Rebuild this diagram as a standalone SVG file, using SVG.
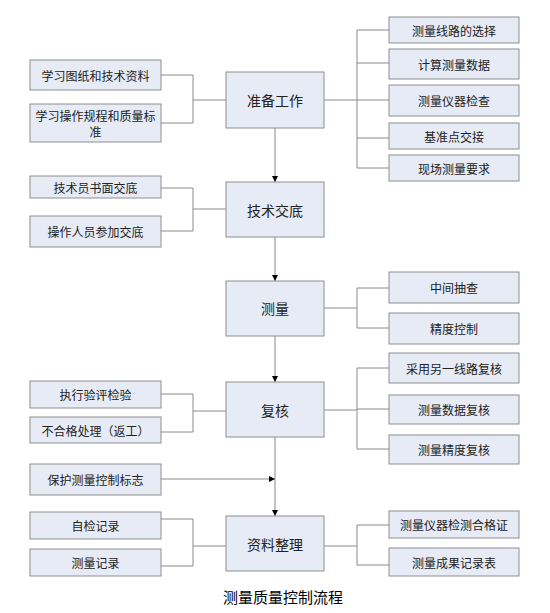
<svg xmlns="http://www.w3.org/2000/svg" width="550" height="613" viewBox="0 0 550 613">
<style>
.b{fill:#E6EBF6;stroke:#8E8E8E;stroke-width:1}
.t{font-family:"Noto Sans CJK SC","Noto Sans CJK TC",sans-serif;font-size:12px;fill:#222;text-anchor:middle;dominant-baseline:central}
.m{font-size:14px}
.c{fill:none;stroke:#8A8A8A;stroke-width:1}
.title{font-family:"Noto Sans CJK SC",sans-serif;font-size:15px;fill:#000;text-anchor:middle}
</style>
<defs>
<marker id="ah" viewBox="0 0 6 6" refX="6" refY="3" markerWidth="6" markerHeight="6" markerUnits="userSpaceOnUse" orient="auto">
<path d="M0,0 L6,3 L0,6 Z" fill="#000"/>
</marker>
</defs>
<rect width="550" height="613" fill="#fff"/>
<g id="connectors">
<path class="c" d="M161,75 H193 V123 H161 M193,100 H226"/>
<path class="c" d="M324,100 H357 M357,30 V168 M357,30 H389 M357,63 H389 M357,100 H389 M357,138 H389 M357,168 H389"/>
<path class="c" d="M161,188 H193 V231 H161 M193,209 H226"/>
<path class="c" d="M324,308 H357 M357,288 V328 M357,288 H389 M357,328 H389"/>
<path class="c" d="M161,394 H193 V432 H161 M193,411 H226"/>
<path class="c" d="M324,410 H357 M357,368 V449 M357,368 H389 M357,409 H389 M357,449 H389"/>
<path class="c" d="M161,519 H193 V566 H161 M193,546 H226"/>
<path class="c" d="M324,546 H357 M357,525 V565 M357,525 H389 M357,565 H389"/>
<path class="c" d="M275,128 V182" marker-end="url(#ah)"/>
<path class="c" d="M275,237 V281" marker-end="url(#ah)"/>
<path class="c" d="M275,336 V382" marker-end="url(#ah)"/>
<path class="c" d="M275,437 V516" marker-end="url(#ah)"/>
<path class="c" d="M161,479 H275" marker-end="url(#ah)"/>
</g>
<g id="n1"><rect class="b" x="226" y="72" width="98" height="56"/><text class="t m" x="275" y="100">准备工作</text></g>
<g id="n2"><rect class="b" x="226" y="182" width="98" height="55"/><text class="t m" x="275" y="210">技术交底</text></g>
<g id="n3"><rect class="b" x="226" y="281" width="98" height="55"/><text class="t m" x="275" y="308">测量</text></g>
<g id="n4"><rect class="b" x="226" y="382" width="98" height="55"/><text class="t m" x="275" y="410">复核</text></g>
<g id="n5"><rect class="b" x="226" y="516" width="98" height="55"/><text class="t m" x="275" y="544">资料整理</text></g>
<g id="l1"><rect class="b" x="30" y="60" width="131" height="30"/><text class="t" x="95.5" y="75">学习图纸和技术资料</text></g>
<g id="l2"><rect class="b" x="30" y="104" width="131" height="38"/><text class="t" x="95.5" y="115">学习操作规程和质量标</text><text class="t" x="95.5" y="131">准</text></g>
<g id="l3"><rect class="b" x="30" y="176" width="131" height="22"/><text class="t" x="95.5" y="187">技术员书面交底</text></g>
<g id="l4"><rect class="b" x="30" y="216" width="131" height="31"/><text class="t" x="95.5" y="231.5">操作人员参加交底</text></g>
<g id="l5"><rect class="b" x="30" y="381" width="131" height="27"/><text class="t" x="95.5" y="394.5">执行验评检验</text></g>
<g id="l6"><rect class="b" x="30" y="417" width="131" height="26"/><text class="t" x="95.5" y="430">不合格处理（返工）</text></g>
<g id="l7"><rect class="b" x="30" y="464" width="131" height="31"/><text class="t" x="95.5" y="479.5">保护测量控制标志</text></g>
<g id="l8"><rect class="b" x="30" y="512" width="131" height="27"/><text class="t" x="95.5" y="525.5">自检记录</text></g>
<g id="l9"><rect class="b" x="30" y="549" width="131" height="27"/><text class="t" x="95.5" y="562.5">测量记录</text></g>
<g id="r1"><rect class="b" x="389" y="17" width="130" height="26"/><text class="t" x="454" y="30">测量线路的选择</text></g>
<g id="r2"><rect class="b" x="389" y="49" width="130" height="30"/><text class="t" x="454" y="64">计算测量数据</text></g>
<g id="r3"><rect class="b" x="389" y="85" width="130" height="31"/><text class="t" x="454" y="100.5">测量仪器检查</text></g>
<g id="r4"><rect class="b" x="389" y="123" width="130" height="26"/><text class="t" x="454" y="136">基准点交接</text></g>
<g id="r5"><rect class="b" x="389" y="155" width="130" height="26"/><text class="t" x="454" y="168">现场测量要求</text></g>
<g id="r6"><rect class="b" x="389" y="272" width="130" height="31"/><text class="t" x="454" y="287.5">中间抽查</text></g>
<g id="r7"><rect class="b" x="389" y="313" width="130" height="31"/><text class="t" x="454" y="328.5">精度控制</text></g>
<g id="r8"><rect class="b" x="389" y="353" width="130" height="30"/><text class="t" x="454" y="368">采用另一线路复核</text></g>
<g id="r9"><rect class="b" x="389" y="395" width="130" height="29"/><text class="t" x="454" y="409.5">测量数据复核</text></g>
<g id="r10"><rect class="b" x="389" y="435" width="130" height="29"/><text class="t" x="454" y="449.5">测量精度复核</text></g>
<g id="r11"><rect class="b" x="389" y="511" width="130" height="27"/><text class="t" x="454" y="524.5">测量仪器检测合格证</text></g>
<g id="r12"><rect class="b" x="389" y="548" width="130" height="28"/><text class="t" x="454" y="562">测量成果记录表</text></g>
<text class="title" x="283" y="603">测量质量控制流程</text>
</svg>
